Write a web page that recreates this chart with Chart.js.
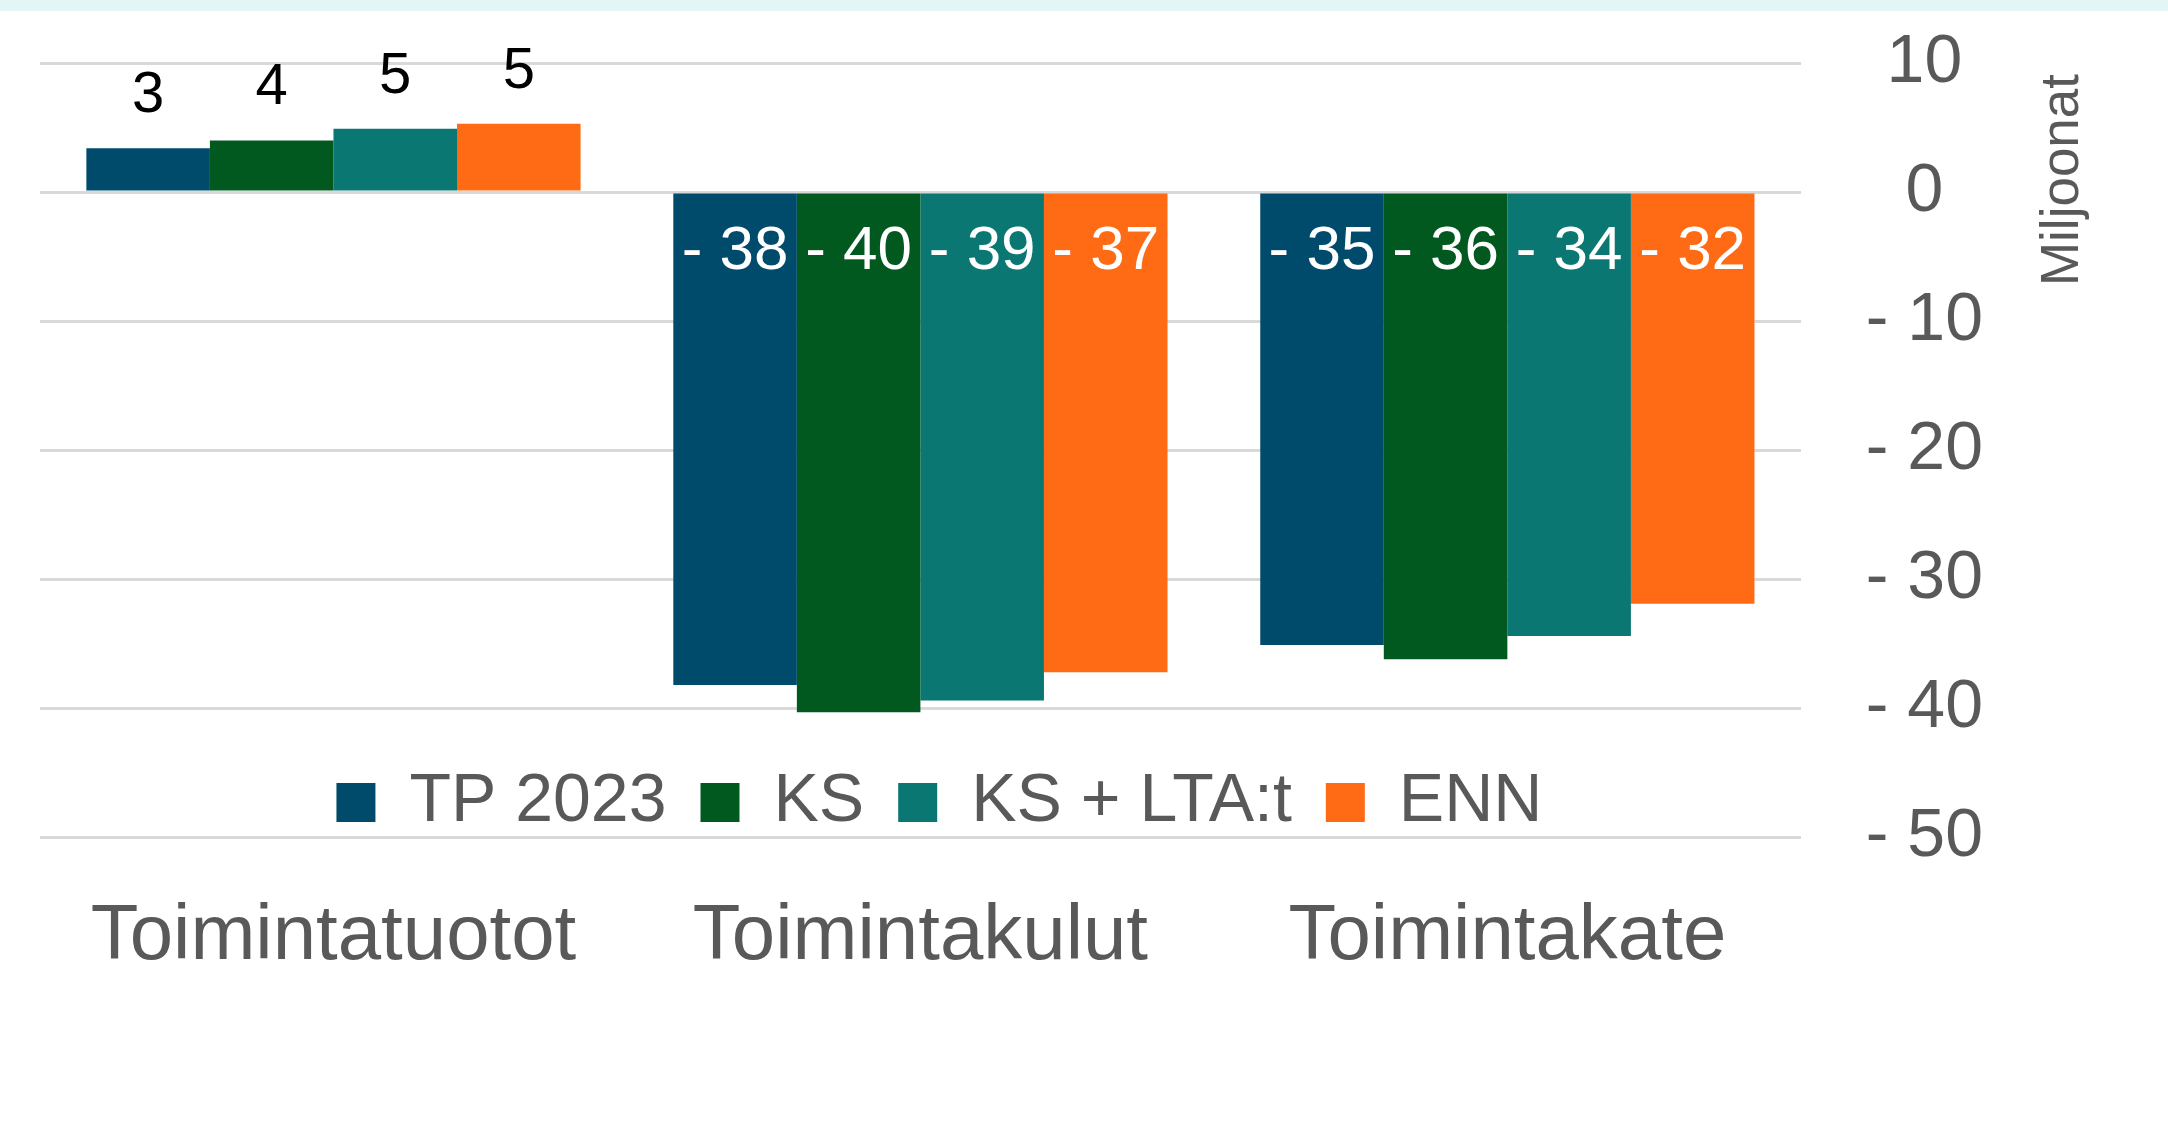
<!DOCTYPE html>
<html>
<head>
<meta charset="utf-8">
<script src="https://cdn.jsdelivr.net/npm/chart.js@4/dist/chart.umd.min.js"></script>
<style>
  html, body { margin: 0; padding: 0; background: #fff; }
  #chart { display: block; background: linear-gradient(#e3f5f5 0, #e3f5f5 11px, #fff 11px); }
</style>
</head>
<body>
<canvas id="chart" width="2168" height="1135"></canvas>
<script>
const categories = ['Toimintatuotot', 'Toimintakulut', 'Toimintakate'];
const seriesNames = ['TP 2023', 'KS', 'KS + LTA:t', 'ENN'];
const tp2023 = [3.4, -38.2, -35.1];
const ks = [4.0, -40.3, -36.2];
const ksLta = [4.9, -39.4, -34.4];
const enn = [5.3, -37.2, -31.9];
const colors = ['#004a6c', '#02591f', '#0a7773', '#ff6a14'];

const FONT = "'Liberation Sans', Arial, sans-serif";
const GREY = '#595959';
const LEGEND_PAD = 34;

const fmt = v => v < 0 ? '- ' + Math.round(-v) : String(Math.round(v));

// value labels on the bars
const barLabels = {
  id: 'barLabels',
  afterDatasetsDraw(chart) {
    const ctx = chart.ctx;
    ctx.save();
    ctx.textAlign = 'center';
    ctx.textBaseline = 'middle';
    chart.data.datasets.forEach((ds, i) => {
      chart.getDatasetMeta(i).data.forEach((bar, j) => {
        const v = ds.data[j];
        if (v >= 0) {
          ctx.font = '58px ' + FONT;
          ctx.fillStyle = '#000';
          ctx.fillText(fmt(v), bar.x, bar.y - 52);
        } else {
          ctx.font = '62px ' + FONT;
          ctx.fillStyle = '#fff';
          ctx.fillText(fmt(v), bar.x, bar.base + 58);
        }
      });
    });
    ctx.restore();
  }
};

// legend sits inside the plot, between -40 and -50
const legendInside = {
  id: 'legendInside',
  afterUpdate(chart) {
    const lg = chart.legend;
    const rowCenter = chart.scales.y.getPixelForValue(-47.3);
    lg.top = rowCenter - 34 - LEGEND_PAD;
    lg.bottom = lg.top + 200;
    lg.left += 19;
    lg.right += 19;
  }
};

// "Miljoonat" reads bottom-to-top at the right
const unitTitle = {
  id: 'unitTitle',
  afterDraw(chart) {
    const ctx = chart.ctx;
    ctx.save();
    ctx.translate(chart.chartArea.right + 263, chart.chartArea.top + 117);
    ctx.rotate(-Math.PI / 2);
    ctx.font = '53px ' + FONT;
    ctx.fillStyle = GREY;
    ctx.textAlign = 'center';
    ctx.textBaseline = 'middle';
    ctx.fillText('Miljoonat', 0, 0);
    ctx.restore();
  }
};

const seriesData = [tp2023, ks, ksLta, enn];

new Chart(document.getElementById('chart'), {
  type: 'bar',
  data: {
    labels: categories,
    datasets: seriesNames.map((name, i) => ({
      label: name,
      data: seriesData[i],
      backgroundColor: colors[i],
      borderWidth: 0,
      categoryPercentage: 0.842,
      barPercentage: 1.0
    }))
  },
  options: {
    responsive: false,
    animation: false,
    devicePixelRatio: 1,
    layout: { padding: { left: 40, right: 185, top: 63, bottom: 97 } },
    scales: {
      x: {
        grid: { display: false, drawTicks: false },
        border: { display: false },
        ticks: { color: GREY, font: { family: FONT, size: 78 }, padding: 53, maxRotation: 0 }
      },
      y: {
        position: 'right',
        min: -50,
        max: 10,
        grid: { color: '#d9d9d9', lineWidth: 3, drawTicks: true, tickLength: 65, tickColor: 'rgba(0,0,0,0)' },
        border: { display: false },
        ticks: {
          stepSize: 10,
          color: GREY,
          font: { family: FONT, size: 68 },
          padding: 0,
          crossAlign: 'center',
          callback: v => fmt(v)
        }
      }
    },
    plugins: {
      tooltip: { enabled: false },
      legend: {
        position: 'bottom',
        fullSize: false,
        maxHeight: 1,
        labels: {
          color: GREY,
          font: { family: FONT, size: 68 },
          boxWidth: 39,
          boxHeight: 39,
          padding: LEGEND_PAD
        }
      }
    }
  },
  plugins: [barLabels, legendInside, unitTitle]
});
</script>
</body>
</html>
